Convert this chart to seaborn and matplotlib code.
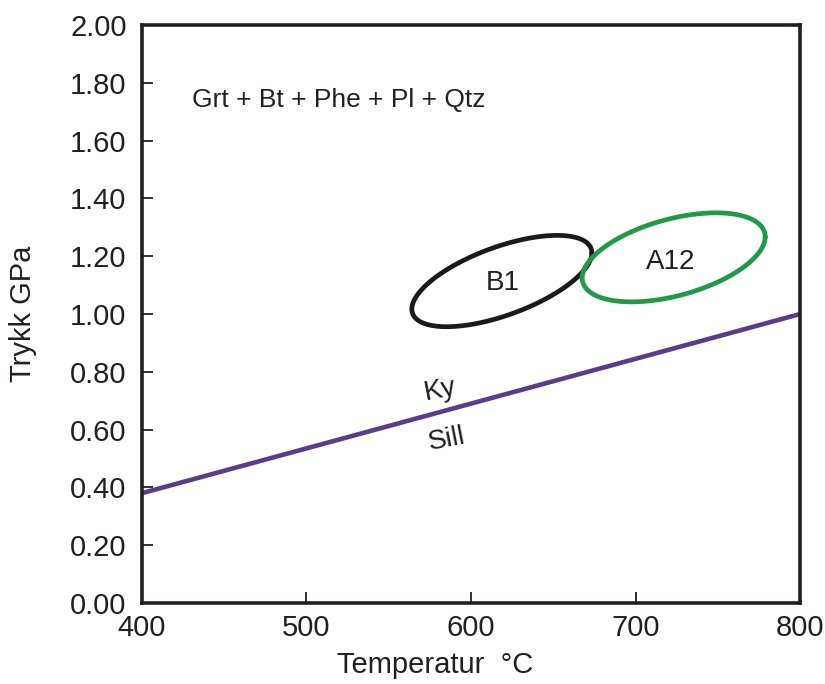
import numpy as np
import pandas as pd
import matplotlib
matplotlib.use("Agg")
import matplotlib.pyplot as plt
import seaborn as sns

# Ky / Sill phase boundary (temperature in °C, pressure in GPa)
boundary_T = [400, 800]
boundary_P = [0.38, 1.00]

# P-T estimates: centre, half-width (°C), half-height (GPa),
# and pressure offset of the hottest point of each ellipse
samples = ["B1", "A12"]
centre_T = [618.7, 723.1]
centre_P = [1.114, 1.196]
half_T = [54.7, 55.6]
half_P = [0.158, 0.154]
tilt_P = [0.097, 0.071]
sample_colors = ["#1a1a1a", "#1f9a46"]
label_T = [619.5, 721.0]
label_P = [1.107, 1.180]

x_ticks = [400, 500, 600, 700, 800]
y_ticks = [0.0, 0.2, 0.4, 0.6, 0.8, 1.0, 1.2, 1.4, 1.6, 1.8, 2.0]

sns.set_style("ticks")
plt.rcParams["font.family"] = ["Liberation Sans", "DejaVu Sans"]

fig = plt.figure(figsize=(8.25, 6.84), dpi=100)
ax = fig.add_axes([0.172, 0.1184, 0.798, 0.8451])

ink = "#231f20"

# Phase boundary
sns.lineplot(x=boundary_T, y=boundary_P, ax=ax, color="#5a3b8c",
             linewidth=3.3, solid_capstyle="butt",
             estimator=None, errorbar=None)

# Ellipses as affine images of the unit circle
t = np.linspace(0, 2 * np.pi, 361)
for i, name in enumerate(samples):
    minor = np.sqrt(half_P[i] ** 2 - tilt_P[i] ** 2)
    ex = centre_T[i] + half_T[i] * np.cos(t)
    ey = centre_P[i] + tilt_P[i] * np.cos(t) + minor * np.sin(t)
    df = pd.DataFrame({"T": ex, "P": ey})
    sns.lineplot(data=df, x="T", y="P", sort=False, ax=ax,
                 estimator=None, errorbar=None,
                 color=sample_colors[i], linewidth=3.4)
    ax.text(label_T[i], label_P[i], name, fontsize=20, ha="center",
            va="center", color=ink)

# Labels on either side of the boundary
ax.text(581, 0.735, "Ky", fontsize=20, ha="center", va="center",
        rotation=11, color=ink)
ax.text(585, 0.566, "Sill", fontsize=20, ha="center", va="center",
        rotation=11, color=ink)

ax.text(430.4, 1.74, "Grt + Bt + Phe + Pl + Qtz", fontsize=19,
        ha="left", va="center", color=ink)

ax.set_xlim(400, 800)
ax.set_ylim(0, 2.0)
ax.set_xticks(x_ticks)
ax.set_yticks(y_ticks)
ax.set_xticklabels([str(v) for v in x_ticks])
ax.set_yticklabels([f"{v:.2f}" for v in y_ticks])

ax.tick_params(axis="both", direction="in", length=8, width=1.3,
               colors=ink, labelsize=21, labelcolor=ink)
ax.tick_params(axis="y", pad=11)
ax.tick_params(axis="x", pad=8)

for side in ["left", "right", "top", "bottom"]:
    ax.spines[side].set_visible(True)
    ax.spines[side].set_linewidth(2.6)
    ax.spines[side].set_color(ink)

ax.set_xlabel("Temperatur  °C", fontsize=21, color=ink)
ax.set_ylabel("Trykk GPa", fontsize=21, color=ink)
ax.xaxis.set_label_coords(0.445, -0.083)
ax.yaxis.set_label_coords(-0.159, 0.5)

fig.savefig("out.png", dpi=100, facecolor="white")
